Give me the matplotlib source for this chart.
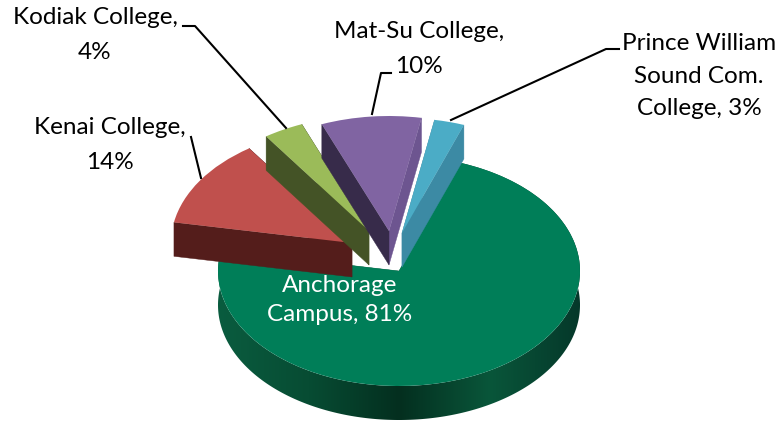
import numpy as np
import matplotlib
matplotlib.use('Agg')
import matplotlib.pyplot as plt
from matplotlib.patches import Polygon
from matplotlib.colors import LinearSegmentedColormap

plt.rcParams['font.family'] = ['Lato', 'DejaVu Sans']

## Data
names = ['Anchorage Campus', 'Kenai College', 'Kodiak College', 'Mat-Su College', 'Prince William Sound Com. College']
shares = [81, 14, 4, 10, 3]

## Style
top_colors = ['#007E58', '#C0504D', '#9BBB59', '#8064A2', '#4BACC6']
wall_left = ['#0A5F40', '#541D1B', '#445326', '#372B4A', '#3C8AA4']
wall_right = ['#0A5F40', '#541D1B', '#445326', '#6D5590', '#3C8AA4']
# slice shift in pixels from the pie centre
shift_x = [0, -47, -30, -10, 3]
shift_y = [0, -28, -40, -40, -38]

W, H = 781, 423
cx, cy = 399, 271
rx, ry, depth = 181, 115, 34

def X(px):
    return (px - cx)/rx
def Y(py):
    return (cy - py)/ry

fig = plt.figure(figsize=(W/100, H/100), dpi=100)
ax = fig.add_axes([0, 0, 1, 1])

wedges, _ = ax.pie(shares, colors=top_colors, startangle=70, counterclock=False,
                   wedgeprops={'linewidth': 0, 'zorder': 3})

d = depth/ry
rim_map = LinearSegmentedColormap.from_list('rim', ['#0A5C3F', '#074C33', '#042F1F', '#09563A', '#05382A'])

# back to front, Anchorage last because it covers the others
for k in [1, 2, 3, 4, 0]:
    w = wedges[k]
    x0 = shift_x[k]/rx
    y0 = -shift_y[k]/ry
    w.set_center((x0, y0))
    base = 2*k + 10
    w.set_zorder(base + 1)
    # theta1 is the right edge of a slice, theta2 the left one
    for ang, col in [(w.theta1, wall_right[k]), (w.theta2, wall_left[k])]:
        ex = x0 + np.cos(np.radians(ang))
        ey = y0 + np.sin(np.radians(ang))
        ax.add_patch(Polygon([[x0, y0], [ex, ey], [ex, ey - d], [x0, y0 - d]],
                             closed=True, fc=col, ec=col, lw=0.3, zorder=base))

# outer wall of the big slice, shaded left to right
a = wedges[0]
angs = np.radians(np.linspace(a.theta1, a.theta2, 361))
rim_top = np.column_stack([np.cos(angs), np.sin(angs)])
rim_low = rim_top[::-1] - [0, d]
rim = Polygon(np.vstack([rim_top, rim_low]), closed=True, fc='none', ec='none', transform=ax.transData)
ax.add_patch(rim)
img = ax.imshow(np.linspace(0, 1, 256)[None, :], extent=(-1, 1, -2, 2), cmap=rim_map, aspect='auto', zorder=10.5)
img.set_clip_path(rim)

ax.set_aspect('auto')
ax.set_xlim(X(0), X(W))
ax.set_ylim(Y(H), Y(0))
ax.axis('off')

## Labels
fs = 17.5
ls2 = 1.8
ax.text(X(95), Y(35), 'Kodiak College,\n4%', ha='center', va='center', fontsize=fs, linespacing=ls2)
ax.text(X(419), Y(49), 'Mat-Su College,\n10%', ha='center', va='center', fontsize=fs, linespacing=ls2)
ax.text(X(110), Y(145), 'Kenai College,\n14%', ha='center', va='center', fontsize=fs, linespacing=ls2)
ax.text(X(699), Y(76), 'Prince William\nSound Com.\nCollege, 3%', ha='center', va='center', fontsize=fs, linespacing=1.65)
ax.text(X(340), Y(300), 'Anchorage\nCampus, 81%', ha='center', va='center', fontsize=fs, linespacing=1.45,
        color='white', zorder=30)

## Leader lines
leaders = [([183, 195, 286], [26, 26, 128]),
           ([391, 381, 372], [73, 73, 114]),
           ([191, 201], [137, 178]),
           ([619, 606, 451], [49, 49, 120])]
for lx, ly in leaders:
    ax.plot([X(p) for p in lx], [Y(p) for p in ly], color='k', lw=1.5, zorder=30)

fig.savefig('out.png', dpi=100)
